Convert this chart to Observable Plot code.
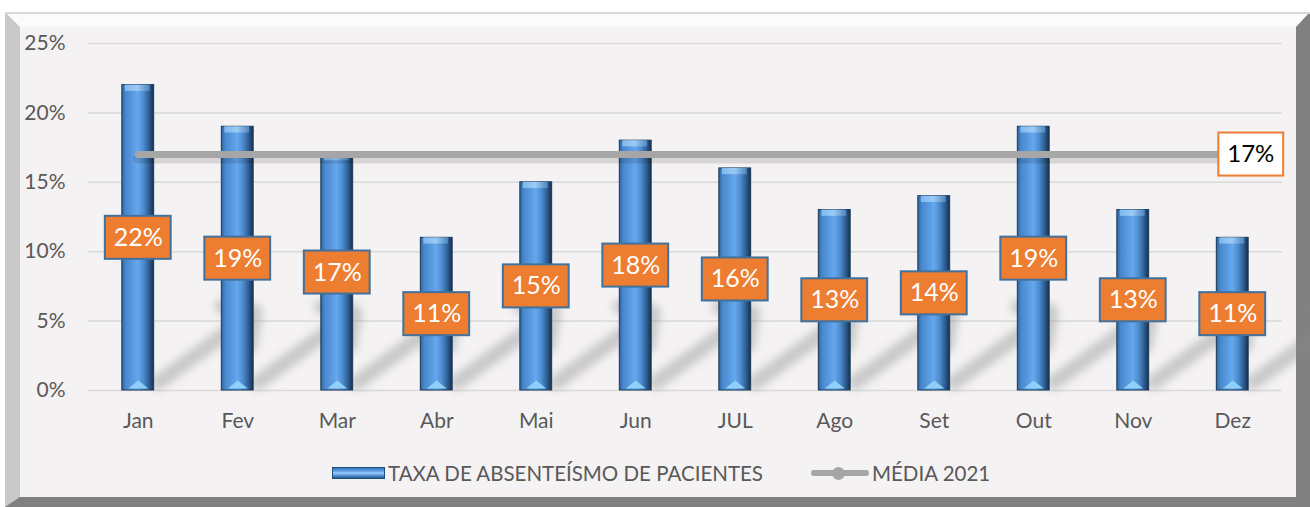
<!DOCTYPE html>
<html>
<head>
<meta charset="utf-8">
<script src="https://cdn.jsdelivr.net/npm/d3@7"></script>
<script src="https://cdn.jsdelivr.net/npm/@observablehq/plot@0.6"></script>
<style>
  html, body { margin: 0; padding: 0; background: #ffffff; }
  #wrap { position: relative; width: 1310px; height: 507px; overflow: hidden; font-family: Lato, "Open Sans", sans-serif; }
  #frame { position: absolute; left: 5px; top: 12px; width: 1305px; height: 495px; box-sizing: border-box;
    border-style: solid; border-width: 15px 14px 10px 15px;
    border-color: #fbfbfb #808080 #808080 #c9c9c9; background: #f4f2f3; }
  #topline { position: absolute; left: 5px; top: 12px; width: 1305px; height: 2px; background: #d9d9d9; }
  #chart { position: absolute; left: 0; top: 0; }
  #legend { position: absolute; left: 0; top: 460px; width: 1310px; height: 26px; color: #595959; font-size: 20.5px; }
  .lg { position: absolute; top: 0; display: flex; align-items: center; height: 26px; white-space: nowrap; }
  .barIcon { width: 53px; height: 12px; box-sizing: border-box; border: 1px solid #1f4e79;
    background: linear-gradient(to bottom, #3a75b5 0%, #5b9be0 30%, #9fd0ff 50%, #5b9be0 70%, #2a5a90 100%); }
  .lineIcon { position: relative; width: 58px; height: 12px; }
  .lineIcon::before { content: ""; position: absolute; left: 0; top: 3px; width: 58px; height: 6px; border-radius: 3px; background: #a6a6a6; }
  .lineIcon::after { content: ""; position: absolute; left: 21px; top: 0; width: 13px; height: 13px; border-radius: 50%; background: #a6a6a6; }
</style>
</head>
<body>
<div id="wrap">
  <div id="frame"></div>
  <div id="topline"></div>
  <div id="chart"></div>
  <div id="legend">
    <div class="lg" style="left:332px"><div class="barIcon"></div><span style="margin-left:3px">TAXA DE ABSENTEÍSMO DE PACIENTES</span></div>
    <div class="lg" style="left:811px"><div class="lineIcon"></div><span style="margin-left:3px">MÉDIA 2021</span></div>
  </div>
</div>
<script>
const months = ["Jan","Fev","Mar","Abr","Mai","Jun","JUL","Ago","Set","Out","Nov","Dez"];
const values = [22, 19, 17, 11, 15, 18, 16, 13, 14, 19, 13, 11];
const meanValue = 17;
const yTicks = [0, 5, 10, 15, 20, 25];

const data = months.map((m, i) => ({month: m, value: values[i]}));
const boxHalf = 1.55;

const flatTriangle = {
  draw(ctx) {
    ctx.moveTo(-10, 4);
    ctx.lineTo(0, -4);
    ctx.lineTo(10, 4);
    ctx.closePath();
  }
};

const chart = Plot.plot({
  width: 1310,
  height: 450,
  marginLeft: 88,
  marginRight: 28,
  marginTop: 43,
  marginBottom: 60,
  style: {background: "transparent", color: "#595959", fontFamily: "Lato, 'Open Sans', sans-serif"},
  x: {domain: months, paddingInner: 0.68, paddingOuter: 0.34, round: false, label: null},
  y: {domain: [0, 25], label: null},
  marks: [
    Plot.gridY(yTicks, {stroke: "#d9d9d9", strokeOpacity: 1, strokeWidth: 1.5}),
    Plot.axisY(yTicks, {tickFormat: d => d + "%", tickSize: 0, tickPadding: 23, fontSize: 21}),
    Plot.axisX({tickSize: 0, tickPadding: 23, fontSize: 21}),
    // bar shadows
    Plot.vector(data, {x: "month", y: 0, dx: 20, dy: -8, length: 120, rotate: 54, anchor: "start",
      stroke: "#8a8a8a", strokeWidth: 15, strokeOpacity: 0.4, strokeLinecap: "round"}),
    // bars
    Plot.barY(data, {x: "month", y: "value", fill: "url(#barGrad)", stroke: "#1c3856", strokeWidth: 1}),
    Plot.barY(data, {x: "month", y1: d => d.value - 0.45, y2: "value", insetLeft: 3, insetRight: 4, fill: "url(#capGrad)"}),
    Plot.dot(data, {x: "month", y: 0, dy: -6, symbol: flatTriangle, fill: "#8fd0fa", stroke: "none"}),
    // value labels
    Plot.barY(data, {x: "month", y1: d => d.value / 2 - boxHalf, y2: d => d.value / 2 + boxHalf,
      insetLeft: -17, insetRight: -17, fill: "#ED7D31", stroke: "#41719C", strokeWidth: 2}),
    Plot.text(data, {x: "month", y: d => d.value / 2, text: d => d.value + "%", fill: "white", fontSize: 25}),
    // mean line
    Plot.lineY(data, {x: "month", y: () => meanValue, dy: 4, stroke: "#000", strokeOpacity: 0.12, strokeWidth: 10, strokeLinecap: "round"}),
    Plot.lineY(data, {x: "month", y: () => meanValue, stroke: "#a6a6a6", strokeWidth: 7, strokeLinecap: "round"}),
    Plot.barY([meanValue], {x: () => months[11], y1: meanValue - boxHalf, y2: meanValue + boxHalf,
      insetLeft: 2, insetRight: -35, fill: "white", stroke: "#ED7D31", strokeWidth: 2}),
    Plot.text([meanValue], {x: () => months[11], y: meanValue, dx: 18, text: d => d + "%", fill: "#000", fontSize: 24})
  ]
});

const svg = d3.select(chart);
const defs = svg.insert("defs", ":first-child");
const g = defs.append("linearGradient").attr("id", "barGrad").attr("x1", "0").attr("x2", "1").attr("y1", "0").attr("y2", "0");
[["0%", "#2d64a0"], ["12%", "#4a88cc"], ["30%", "#5596dc"], ["50%", "#66a8ee"], ["68%", "#4d8ccf"], ["85%", "#2f5f94"], ["100%", "#14314f"]]
  .forEach(([o, c]) => g.append("stop").attr("offset", o).attr("stop-color", c));
const cg = defs.append("linearGradient").attr("id", "capGrad").attr("x1", "0").attr("x2", "1").attr("y1", "0").attr("y2", "0");
[["0%", "#7db8f0"], ["50%", "#9ccbf5"], ["100%", "#4f86c0"]]
  .forEach(([o, c]) => cg.append("stop").attr("offset", o).attr("stop-color", c));
const f = defs.append("filter").attr("id", "blur").attr("x", "-50%").attr("y", "-50%").attr("width", "200%").attr("height", "200%");
f.append("feGaussianBlur").attr("stdDeviation", 4);
svg.selectAll("g[aria-label='vector']").attr("filter", "url(#blur)");

document.getElementById("chart").appendChild(chart);
</script>
</body>
</html>
